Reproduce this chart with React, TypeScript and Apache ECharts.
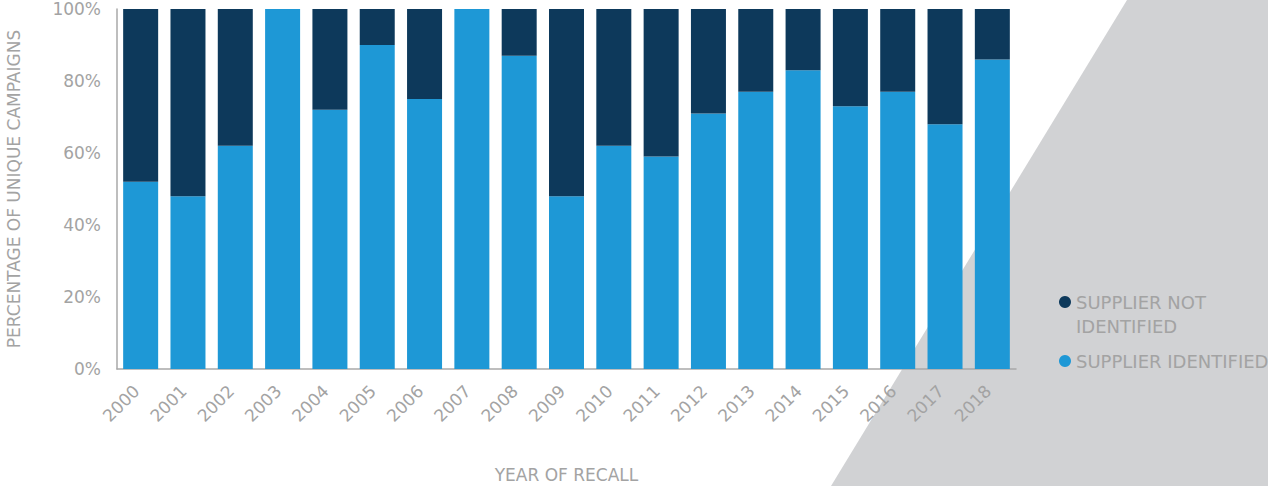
import React, { useEffect, useRef } from "react";
import * as echarts from "echarts";

const years = ["2000","2001","2002","2003","2004","2005","2006","2007","2008","2009","2010","2011","2012","2013","2014","2015","2016","2017","2018"];
const supplierIdentified = [52, 48, 62, 100, 72, 90, 75, 100, 87, 48, 62, 59, 71, 77, 83, 73, 77, 68, 86];
const supplierNotIdentified = [48, 52, 38, 0, 28, 10, 25, 0, 13, 52, 38, 41, 29, 23, 17, 27, 23, 32, 14];
const yTicks = [0, 20, 40, 60, 80, 100];

const FONT = "'DejaVu Sans', sans-serif";
const GREY_TEXT = "#a3a3a3";
const DARK = "#0d395b";
const LIGHT = "#1e98d6";

export default function App() {
  const ref = useRef<HTMLDivElement>(null);
  useEffect(() => {
    if (!ref.current) return;
    const chart = echarts.init(ref.current, null, { renderer: "svg" });
    chart.setOption({
      animation: false,
      backgroundColor: "#ffffff",
      graphic: [
        {
          type: "polygon",
          z: -10,
          silent: true,
          shape: { points: [[1127, 0], [1268, 0], [1268, 486], [831, 486]] },
          style: { fill: "#d1d2d4" },
        },
      ],
      grid: {
        left: 117,
        top: 9,
        right: 252,
        bottom: 117,
        containLabel: false,
        outerBoundsMode: "none",
      },
      legend: {
        orient: "vertical",
        left: 1054,
        top: 261,
        itemGap: 11,
        itemWidth: 12,
        itemHeight: 12,
        icon: "circle",
        formatter: (name: string) => (name.indexOf("\n") >= 0 ? "\n" + name : name),
        textStyle: { fontFamily: FONT, fontSize: 18, color: GREY_TEXT, lineHeight: 24 },
        data: ["SUPPLIER NOT\nIDENTIFIED", "SUPPLIER IDENTIFIED"],
      },
      xAxis: {
        type: "category",
        data: years,
        name: "YEAR OF RECALL",
        nameLocation: "middle",
        nameGap: 97,
        nameTextStyle: { fontFamily: FONT, fontSize: 17, color: GREY_TEXT },
        axisLine: { show: true, lineStyle: { color: "#a8a8a8", width: 1.5 } },
        axisTick: { show: false },
        axisLabel: {
          rotate: 45,
          margin: 15,
          padding: [0, 6, 0, 0],
          fontFamily: FONT,
          fontSize: 17,
          color: GREY_TEXT,
        },
        splitLine: { show: false },
      },
      yAxis: {
        type: "value",
        min: yTicks[0],
        max: yTicks[yTicks.length - 1],
        interval: 20,
        name: "PERCENTAGE OF UNIQUE CAMPAIGNS",
        nameLocation: "middle",
        nameGap: 95,
        nameTextStyle: { fontFamily: FONT, fontSize: 17, color: GREY_TEXT },
        axisLine: { show: true, lineStyle: { color: "#a8a8a8", width: 1.5 } },
        axisTick: { show: false },
        splitLine: { show: false },
        axisLabel: {
          margin: 16,
          fontFamily: FONT,
          fontSize: 17,
          color: GREY_TEXT,
          formatter: (v: number) => `${v}%`,
        },
      },
      series: [
        {
          name: "SUPPLIER IDENTIFIED",
          type: "bar",
          stack: "total",
          barWidth: 35,
          data: supplierIdentified,
          itemStyle: { color: LIGHT },
          z: 2,
        },
        {
          name: "SUPPLIER NOT\nIDENTIFIED",
          type: "bar",
          stack: "total",
          barWidth: 35,
          data: supplierNotIdentified,
          itemStyle: { color: DARK },
          z: 2,
        },
      ],
    });
    return () => chart.dispose();
  }, []);
  return (
    <div
      ref={ref}
      style={{ position: "fixed", left: 0, top: 0, width: 1268, height: 486 }}
    />
  );
}
